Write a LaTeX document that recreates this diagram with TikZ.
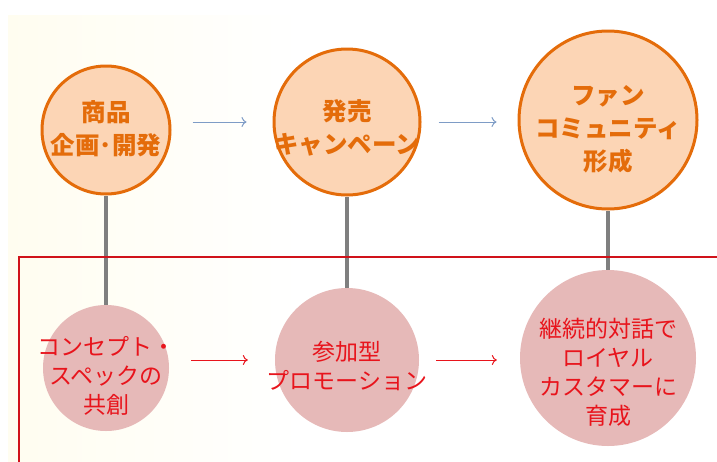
\documentclass[tikz,border=0pt]{standalone}
\usepackage{fontspec}
\setmainfont{Noto Sans CJK JP}
\usetikzlibrary{arrows.meta,backgrounds}

\definecolor{topfill}{HTML}{FCD5B5}
\definecolor{topline}{HTML}{E46C0A}
\definecolor{botfill}{HTML}{E6B9B8}
\definecolor{bottext}{HTML}{E8141C}
\definecolor{framered}{HTML}{D0121A}
\definecolor{toparrow}{HTML}{7E9CC6}
\definecolor{stemgray}{HTML}{7F7F7F}
\definecolor{cream}{HTML}{FFFDF0}

\begin{document}
\begin{tikzpicture}[x=1pt,y=-1pt,>={To[length=5pt,width=10pt]},
    topball/.style={circle,draw=topline,line width=3pt,fill=topfill,inner sep=0pt},
    botball/.style={circle,fill=botfill,inner sep=0pt},
    toptext/.style={text=topline,font=\bfseries\fontsize{24.5}{33}\selectfont,align=center,inner sep=0pt},
    bottext/.style={text=bottext,font=\fontsize{23}{29}\selectfont,align=center,inner sep=0pt},
    topflow/.style={->,draw=toparrow,line width=1pt},
    botflow/.style={->,draw=bottext,line width=1pt},
    stem/.style={draw=stemgray,line width=3.2pt}]
  \useasboundingbox (0,0) rectangle (717,461);
  \clip (0,0) rectangle (717,461);

  % upper row
  \node[topball,minimum size=128pt] (p1) at (106,130) {};
  \node[topball,minimum size=146pt] (p2) at (347,122) {};
  \node[topball,minimum size=178pt] (p3) at (608,120) {};

  % lower row
  \node[botball,minimum size=126pt] (b1) at (106,368) {};
  \node[botball,minimum size=144pt] (b2) at (347,360) {};
  \node[botball,minimum size=176pt] (b3) at (608,358) {};

  \begin{scope}[on background layer]
    \fill[left color=cream,right color=white] (8,15) rectangle (300,461);
    \draw[stem] (p1.south) -- (b1.north);
    \draw[stem] (p2.south) -- (b2.north);
    \draw[stem] (p3.south) -- (b3.north);
  \end{scope}

  \draw[framered,line width=2.8pt] (19,257) rectangle (740,480);

  % labels
  \node[toptext] (t1) at (106,129) {商品\\企画･開発};
  \node[toptext] (t2) at (347,128) {発売\\キャンペーン};
  \node[toptext] (t3) at (608,129) {ファン\\コミュニティ\\形成};
  \node[bottext] (u1) at (106,376) {コンセプト・\\スペックの\\共創};
  \node[bottext] (u2) at (347,366) {参加型\\プロモーション};
  \node[bottext] (u3) at (608,372) {継続的対話で\\ロイヤル\\カスタマーに\\育成};

  % flow arrows
  \draw[topflow,shorten <=21pt,shorten >=26pt] (p1.east |- p2.west) -- (p2.west);
  \draw[topflow,shorten <=17pt,shorten >=21pt] (p2.east) -- (p3.west |- p2.east);
  \draw[botflow,shorten <=22pt,shorten >=27pt] (b1.east |- b2.west) -- (b2.west);
  \draw[botflow,shorten <=17pt,shorten >=23pt] (b2.east) -- (b3.west |- b2.east);
\end{tikzpicture}
\end{document}
